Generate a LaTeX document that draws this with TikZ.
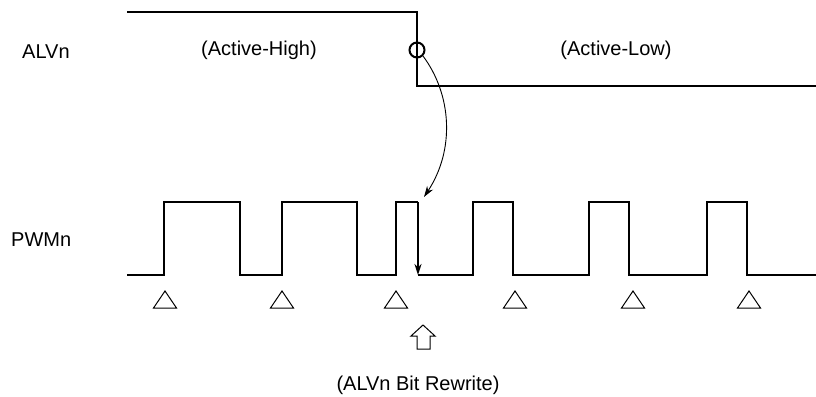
\documentclass[tikz,border=0pt]{standalone}
\usepackage{fontspec}
\setmainfont{Liberation Sans}
\usetikzlibrary{arrows.meta,positioning}
\tikzset{
  wave/.style={line width=2pt, line join=miter},
  tag/.style={font=\fontsize{20}{24}\selectfont, inner sep=0pt},
  periodmark/.style={line width=1pt},
  edgept/.style={-{Stealth[length=11pt,width=7pt]}, line width=2pt},
  rewrite/.style={-{Stealth[length=11pt,width=7pt]}, line width=0.9pt},
  hollow/.style={line width=1pt, line join=miter},
}
\begin{document}
\begin{tikzpicture}[x=1pt,y=-1pt]
  \useasboundingbox (0,0) rectangle (816,396);
  % signal names
  \node[tag,anchor=base west] (alv) at (22,59) {ALVn};
  \node[tag,anchor=base west] (pwm) at (11,246) {PWMn};
  % polarity labels
  \node[tag,anchor=base] (high) at (259,56) {(Active-High)};
  \node[tag,anchor=base] (low) at (616,56) {(Active-Low)};
  % ALVn level
  \draw[wave] (127,12) -- (417,12) -- (417,86) -- (816,86);
  \node[circle,draw,line width=2pt,minimum size=15pt,inner sep=0pt] (sw) at (417,50) {};
  % PWMn output
  \draw[wave] (127,275) -- (164,275) -- (164,202) -- (240,202) -- (240,275)
    -- (282,275) -- (282,202) -- (357,202) -- (357,275)
    -- (396,275) -- (396,202) -- (418,202);
  \coordinate (top) at (418,202);
  \coordinate (bot) at (418,275);
  \draw[edgept] (top) -- (bot);
  \draw[wave] (bot) -- (473,275) -- (473,202) -- (513,202) -- (513,275)
    -- (589,275) -- (589,202) -- (629,202) -- (629,275)
    -- (707,275) -- (707,202) -- (747,202) -- (747,275) -- (816,275);
  % rewrite arrow
  \coordinate (hit) at (424,197);
  \draw[rewrite] (sw.south east) .. controls (452,95) and (455,150) .. (hit);
  % period marks
  \foreach \px in {165,282,396,515,633,749}
    \draw[periodmark] (\px,291) -- (\px+11.5,308) -- (\px-11.5,308) -- cycle;
  % rewrite point
  \draw[hollow] (423,325) -- (435,336) -- (430,336) -- (430,349)
    -- (417,349) -- (417,336) -- (411,336) -- cycle;
  \node[tag,anchor=base] (bit) at (418,390) {(ALVn Bit Rewrite)};
\end{tikzpicture}
\end{document}
